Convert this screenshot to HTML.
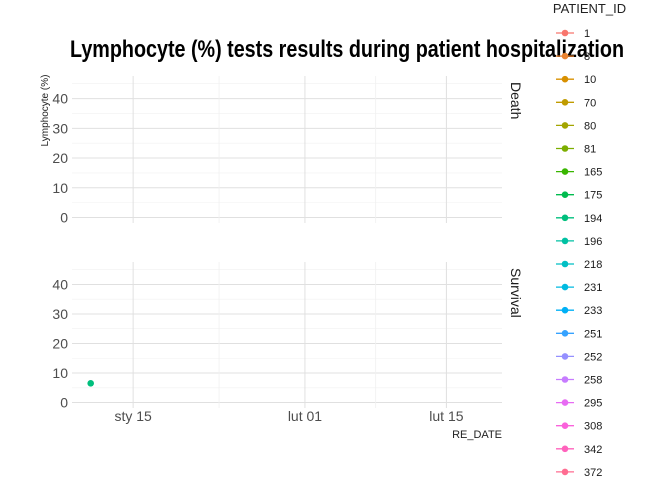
<!DOCTYPE html>
<html><head><meta charset="utf-8"><style>
body{margin:0;background:#fff;font-family:"Liberation Sans",sans-serif}
svg text{font-family:"Liberation Sans Narrow","Liberation Sans",sans-serif}
</style></head><body>
<svg id="c" width="672" height="480" viewBox="0 0 672 480">
<text x="347" y="57" font-size="24" font-weight="bold" text-anchor="middle" textLength="554" lengthAdjust="spacingAndGlyphs" fill="#000">Lymphocyte (%) tests results during patient hospitalization</text>
<text transform="translate(48,110.5) rotate(-90)" font-size="10" text-anchor="middle" fill="#222">Lymphocyte (%)</text>
<text x="502" y="438" font-size="11" text-anchor="end" fill="#222">RE_DATE</text>
<text x="589.5" y="13" font-size="13" text-anchor="middle" fill="#222">PATIENT_ID</text>
<g id="panels"></g><g id="legend"></g>
</svg>
<script>
const panelNames=["Death","Survival"];
const xTickLabels=["sty 15","lut 01","lut 15"];
const xTickDays=[15,32,46]; // days since Jan 0
const yTicks=[0,10,20,30,40];
const pointPanel=["Survival"];
const pointDays=[10.8];
const pointValues=[6.5];
const pointIds=["194"];
const patientIds=["1","8","10","70","80","81","165","175","194","196","218","231","233","251","252","258","295","308","342","372"];
const colors=["#F8766D","#EA8331","#D89000","#C09B00","#A3A500","#7CAE00","#39B600","#00BB4E","#00BF7D","#00C1A3","#00BFC4","#00BAE0","#00B0F6","#35A2FF","#9590FF","#C77CFF","#E76BF3","#FA62DB","#FF62BC","#FF6C91"];
const NS="http://www.w3.org/2000/svg";
const X0=72,X1=502,D0=8.95,D1=51.5;
const x=d=>X0+(d-D0)/(D1-D0)*(X1-X0);
const tops=[76,262],bots=[223,408];
const V0=-1.85,V1=47.6;
function mk(t,a,p){const e=document.createElementNS(NS,t);for(const k in a)e.setAttribute(k,a[k]);p.appendChild(e);return e;}
const P=document.getElementById('panels');
panelNames.forEach((nm,i)=>{
  const y=v=>bots[i]-(v-V0)/(V1-V0)*(bots[i]-tops[i]);
  const g=mk('g',{},P);
  
  
  for(let v=5;v<V1;v+=10){mk('line',{x1:X0,x2:X1,y1:y(v),y2:y(v),stroke:'#f0f0f0','stroke-width':0.6},g);}
  yTicks.forEach(v=>{
    const l=mk('line',{x1:X0,x2:X1,y1:y(v),y2:y(v),stroke:'#e0e0e0','stroke-width':1},g);
    
    const t=mk('text',{x:68,y:y(v)+5,'font-size':14,'text-anchor':'end',fill:'#4d4d4d'},g);t.textContent=v;
    
  });
  for(let k=0;k<xTickDays.length-1;k++){const m=(xTickDays[k]+xTickDays[k+1])/2;mk('line',{x1:x(m),x2:x(m),y1:tops[i],y2:bots[i],stroke:'#f0f0f0','stroke-width':0.8},g);}
  xTickDays.forEach(d=>{const l=mk('line',{x1:x(d),x2:x(d),y1:tops[i],y2:bots[i],stroke:'#e0e0e0','stroke-width':1},g);
    });
  const s=mk('text',{transform:`translate(511,${tops[i]+6}) rotate(90)`,'font-size':14,'text-anchor':'start',fill:'#1a1a1a'},g);
  s.textContent=nm;
  pointPanel.forEach((pp,j)=>{if(pp!==nm)return;
    const c=mk('circle',{cx:x(pointDays[j]),cy:y(pointValues[j]),r:3.3,fill:colors[patientIds.indexOf(pointIds[j])]},g);
    });
});
xTickLabels.forEach((lb,k)=>{const t=mk('text',{x:x(xTickDays[k]),y:421,'font-size':14,'text-anchor':'middle',fill:'#4d4d4d'},P);
  t.textContent=lb;});
const L=document.getElementById('legend');
patientIds.forEach((id,k)=>{const yy=33+k*23.1;const g=mk('g',{},L);
  
  mk('line',{x1:556,x2:574,y1:yy,y2:yy,stroke:colors[k],'stroke-width':1.3},g);
  mk('circle',{cx:565,cy:yy,r:3.3,fill:colors[k]},g);
  const t=mk('text',{x:584,y:yy+4,'font-size':11,fill:'#1a1a1a'},g);t.textContent=id;});
</script>
</body></html>
